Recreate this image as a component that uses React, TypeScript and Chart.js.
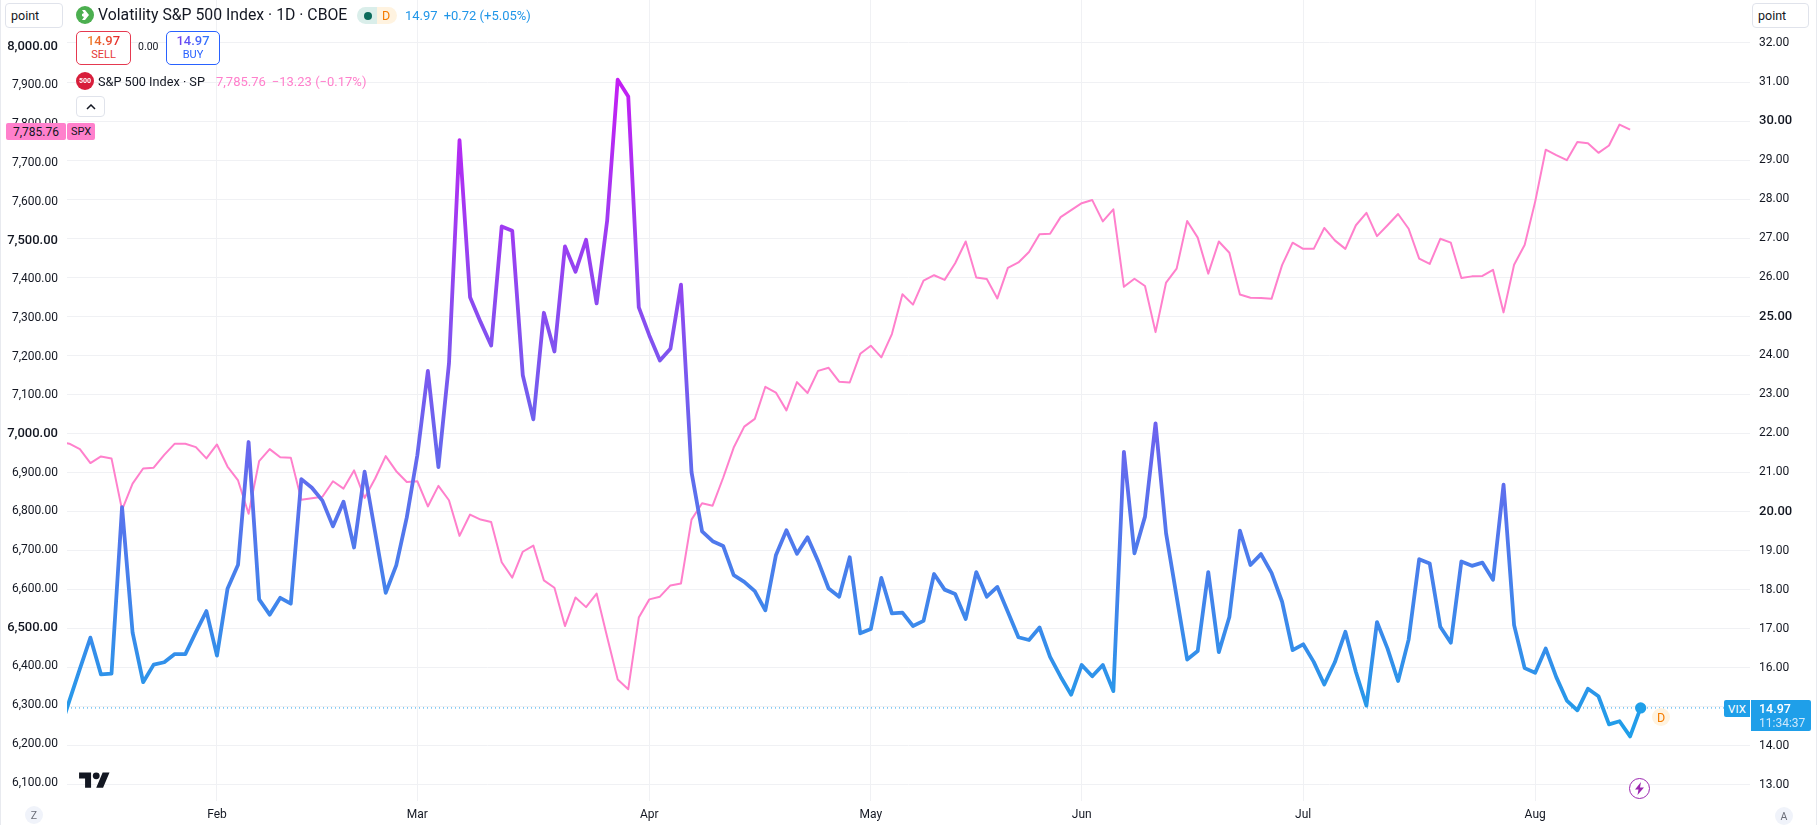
import React, { useEffect, useRef } from "react";
import { Chart, registerables } from "chart.js";

Chart.register(...registerables);

const VIX_VALUES = [
  14.31, 15.15, 15.97, 16.77, 15.83, 15.85, 20.11, 16.9, 15.63, 16.08,
  16.14, 16.35, 16.35, 16.91, 17.45, 16.31, 18.02, 18.64, 21.78, 17.75,
  17.36, 17.79, 17.64, 20.83, 20.61, 20.28, 19.62, 20.25, 19.08, 21.02,
  19.47, 17.92, 18.62, 19.85, 21.44, 23.6, 21.14, 23.79, 29.51, 25.49,
  24.85, 24.25, 27.3, 27.19, 23.49, 22.36, 25.09, 24.1, 26.79, 26.14,
  26.96, 25.33, 27.45, 31.06, 30.63, 25.23, 24.51, 23.87, 24.17, 25.81,
  21.01, 19.49, 19.24, 19.12, 18.37, 18.2, 17.96, 17.47, 18.88, 19.52,
  18.92, 19.34, 18.73, 18.03, 17.82, 18.83, 16.88, 16.99, 18.3, 17.39,
  17.41, 17.07, 17.2, 18.4, 18.0, 17.89, 17.25, 18.45, 17.82, 18.07,
  17.43, 16.78, 16.71, 17.03, 16.28, 15.77, 15.31, 16.07, 15.78, 16.07,
  15.4, 21.53, 18.93, 19.87, 22.26, 19.44, 17.82, 16.21, 16.43, 18.45,
  16.4, 17.3, 19.51, 18.63, 18.91, 18.43, 17.69, 16.45, 16.6, 16.15,
  15.57, 16.14, 16.92, 15.89, 15.03, 17.17, 16.49, 15.66, 16.72, 18.78,
  18.67, 17.05, 16.64, 18.72, 18.61, 18.69, 18.25, 20.69, 17.09, 15.99,
  15.87, 16.49, 15.76, 15.16, 14.91, 15.46, 15.27, 14.55, 14.63, 14.24, 14.97,
];

const SPX_VALUES = [
  6981, 6975, 6961, 6925, 6942, 6937, 6804, 6872, 6911, 6913,
  6946, 6975, 6975, 6966, 6937, 6973, 6916, 6880, 6794, 6930,
  6961, 6940, 6939, 6830, 6834, 6838, 6878, 6859, 6906, 6835,
  6885, 6943, 6904, 6876, 6878, 6813, 6866, 6829, 6737, 6792,
  6779, 6773, 6669, 6629, 6696, 6712, 6622, 6603, 6504, 6578,
  6553, 6588, 6476, 6366, 6341, 6526, 6573, 6580, 6609, 6614,
  6779, 6821, 6815, 6887, 6965, 7019, 7039, 7122, 7107, 7061,
  7134, 7106, 7163, 7171, 7135, 7133, 7207, 7228, 7198, 7258,
  7361, 7334, 7396, 7410, 7398, 7441, 7497, 7404, 7400, 7350,
  7429, 7443, 7470, 7516, 7517, 7560, 7578, 7596, 7604, 7549,
  7580, 7380, 7401, 7382, 7263, 7391, 7427, 7550, 7507, 7414,
  7497, 7468, 7360, 7352, 7351, 7349, 7436, 7494, 7478, 7478,
  7532, 7500, 7478, 7539, 7571, 7511, 7539, 7568, 7530, 7453,
  7439, 7504, 7494, 7403, 7407, 7408, 7424, 7314, 7437, 7488,
  7600, 7734, 7720, 7707, 7754, 7751, 7726, 7745, 7798.99, 7785.76,
];

const MONTH_LABELS = ["Feb", "Mar", "Apr", "May", "Jun", "Jul", "Aug"];
const MONTH_STARTS = [15, 34, 56, 77, 97, 118, 140];
const LEFT_TICKS = [
  6100, 6200, 6300, 6400, 6500, 6600, 6700, 6800, 6900, 7000, 7100, 7200, 7300,
  7400, 7500, 7600, 7700, 7800, 7900, 8000,
];
const RIGHT_TICKS = [
  13, 14, 15, 16, 17, 18, 19, 20, 21, 22, 23, 24, 25, 26, 27, 28, 29, 30, 31, 32,
];
const LAST_VIX = 14.97;
const X_RANGE = [0.78, 160.37];
const LEFT_RANGE = [6052.4, 8120.6];
const RIGHT_RANGE = [12.587, 33.1];

const FONT = "Roboto, 'Noto Sans', sans-serif";
const TEXT = "#131722";
const PINK = "#ff80cc";
const BLUE = "#1f9fe9";
const GRID = "#f0f1f4";

type Box = {
  x: number;
  y: number;
  w: number;
  h: number;
  style?: React.CSSProperties;
  children?: React.ReactNode;
};

function Abs({ x, y, w, h, style, children }: Box) {
  return (
    <div
      style={{
        position: "absolute",
        left: x,
        top: y,
        width: w,
        height: h,
        display: "flex",
        alignItems: "center",
        justifyContent: "center",
        boxSizing: "border-box",
        whiteSpace: "nowrap",
        ...style,
      }}
    >
      {children}
    </div>
  );
}

function Label({
  x,
  cy,
  size,
  color,
  weight,
  children,
}: {
  x: number;
  cy: number;
  size: number;
  color: string;
  weight?: number;
  children: React.ReactNode;
}) {
  return (
    <div
      style={{
        position: "absolute",
        left: x,
        top: cy - 10,
        height: 20,
        lineHeight: "20px",
        fontSize: size,
        color,
        fontWeight: weight ?? 400,
        whiteSpace: "nowrap",
      }}
    >
      {children}
    </div>
  );
}

function GradientText({ from, to, children }: { from: string; to: string; children: React.ReactNode }) {
  return (
    <span
      style={{
        background: `linear-gradient(90deg, ${from}, ${to})`,
        WebkitBackgroundClip: "text",
        backgroundClip: "text",
        color: "transparent",
      }}
    >
      {children}
    </span>
  );
}

export default function App() {
  const ref = useRef<HTMLCanvasElement | null>(null);

  useEffect(() => {
    if (!ref.current) return;
    const vixGradient = (ctx: any) => {
      const chart = ctx.chart;
      if (!chart.chartArea) return BLUE;
      const yScale = chart.scales.yRight;
      const top = yScale.getPixelForValue(Math.max(...VIX_VALUES));
      const bottom = yScale.getPixelForValue(Math.min(...VIX_VALUES));
      const g = chart.ctx.createLinearGradient(0, top, 0, bottom);
      g.addColorStop(0, "#c41ef4");
      g.addColorStop(1, BLUE);
      return g;
    };
    const fitY = (s: any) => {
      s.width = 67;
      s.paddingTop = 0;
      s.paddingBottom = 0;
    };
    const lastIndex = VIX_VALUES.length - 1;
    const chart = new Chart(ref.current, {
      type: "line",
      data: {
        datasets: [
          {
            label: "VIX",
            yAxisID: "yRight",
            data: VIX_VALUES.map((y, x) => ({ x, y })),
            borderColor: vixGradient,
            borderWidth: 3.8,
            borderJoinStyle: "round",
            borderCapStyle: "round",
            tension: 0,
            clip: 0,
            pointRadius: (c: any) => (c.dataIndex === lastIndex ? 5.6 : 0),
            pointBackgroundColor: BLUE,
            pointBorderWidth: 0,
          },
          {
            label: "SPX",
            yAxisID: "yLeft",
            data: SPX_VALUES.map((y, x) => ({ x, y })),
            borderColor: PINK,
            borderWidth: 2,
            borderJoinStyle: "round",
            tension: 0,
            clip: 0,
            pointRadius: 0,
          },
          {
            label: "Last",
            yAxisID: "yRight",
            data: [
              { x: X_RANGE[0], y: LAST_VIX },
              { x: X_RANGE[1], y: LAST_VIX },
            ],
            borderColor: BLUE,
            borderWidth: 1,
            borderDash: [1, 3],
            tension: 0,
            pointRadius: 0,
          },
        ],
      } as any,
      options: {
        responsive: false,
        animation: false,
        events: [],
        layout: { padding: 0, autoPadding: false },
        plugins: { legend: { display: false }, tooltip: { enabled: false } },
        scales: {
          x: {
            type: "linear",
            min: X_RANGE[0],
            max: X_RANGE[1],
            afterBuildTicks: (s: any) => {
              s.ticks = MONTH_STARTS.map((value) => ({ value }));
            },
            afterFit: (s: any) => {
              s.height = 24;
              s.paddingLeft = 0;
              s.paddingRight = 0;
            },
            grid: { color: GRID, drawTicks: false },
            border: { display: false },
            ticks: {
              autoSkip: false,
              maxRotation: 0,
              padding: 7,
              color: TEXT,
              font: { family: FONT, size: 12 },
              callback: (v: any) => MONTH_LABELS[MONTH_STARTS.indexOf(v)] ?? null,
            },
          },
          yLeft: {
            type: "linear",
            position: "left",
            min: LEFT_RANGE[0],
            max: LEFT_RANGE[1],
            afterBuildTicks: (s: any) => {
              s.ticks = LEFT_TICKS.map((value) => ({ value }));
            },
            afterFit: fitY,
            grid: { display: false, drawTicks: false },
            border: { display: false },
            ticks: {
              autoSkip: false,
              padding: 9,
              color: TEXT,
              font: (c: any) =>
                c.tick && c.tick.value % 500 === 0
                  ? { family: FONT, size: 13, weight: "500" }
                  : { family: FONT, size: 12 },
              callback: (v: any) =>
                Number(v).toLocaleString("en-US", { minimumFractionDigits: 2, maximumFractionDigits: 2 }),
            },
          },
          yRight: {
            type: "linear",
            position: "right",
            min: RIGHT_RANGE[0],
            max: RIGHT_RANGE[1],
            afterBuildTicks: (s: any) => {
              s.ticks = RIGHT_TICKS.map((value) => ({ value }));
            },
            afterFit: fitY,
            grid: { color: GRID, drawTicks: false },
            border: { display: false },
            ticks: {
              autoSkip: false,
              padding: 9,
              color: TEXT,
              font: (c: any) =>
                c.tick && c.tick.value % 5 === 0
                  ? { family: FONT, size: 13, weight: "500" }
                  : { family: FONT, size: 12 },
              callback: (v: any) => Number(v).toFixed(2),
            },
          },
        },
      },
    } as any);
    return () => chart.destroy();
  }, []);

  const chip: React.CSSProperties = {
    background: "#fff",
    border: "1px solid #e0e3eb",
    borderRadius: 4,
  };

  return (
    <div
      style={{
        position: "fixed",
        left: 0,
        top: 0,
        width: 1817,
        height: 825,
        background: "#fff",
        fontFamily: FONT,
        overflow: "hidden",
      }}
    >
      <canvas ref={ref} width={1817} height={825} style={{ display: "block", width: 1817, height: 825 }} />

      {/* frame */}
      <div style={{ position: "absolute", left: 0, top: 0, bottom: 0, width: 1, background: "#e8eaef" }} />
      <div style={{ position: "absolute", left: 1816, top: 0, bottom: 0, width: 1, background: "#e8eaef" }} />

      {/* scale mode boxes */}
      <Abs x={5} y={3} w={58} h={25} style={{ ...chip, justifyContent: "flex-start", paddingLeft: 5, fontSize: 12.5, color: TEXT }}>
        point
      </Abs>
      <Abs x={1752} y={3} w={57} h={25} style={{ ...chip, justifyContent: "flex-start", paddingLeft: 5, fontSize: 12.5, color: TEXT }}>
        point
      </Abs>

      {/* main title row */}
      <Abs x={76} y={6} w={18} h={18} style={{ borderRadius: 9, background: "#4caf50" }}>
        <svg width="12" height="12" viewBox="0 0 12 12">
          <path d="M3 1h3l4 5-4 5H3l2-3-2-1V5l2-1z" fill="#fff" />
        </svg>
      </Abs>
      <Label x={98} cy={15} size={15.8} color={TEXT}>
        Volatility S&amp;P 500 Index · 1D · CBOE
      </Label>
      <div style={{ position: "absolute", left: 357, top: 7, width: 20, height: 17, background: "#daeeea", borderRadius: "9px 0 0 9px" }} />
      <div style={{ position: "absolute", left: 377, top: 7, width: 20, height: 17, background: "#fff3e0", borderRadius: "0 9px 9px 0" }} />
      <div style={{ position: "absolute", left: 364, top: 11.5, width: 8, height: 8, borderRadius: 4, background: "#0b6b5b" }} />
      <Abs x={377} y={7} w={18} h={17} style={{ color: "#f57c00", fontSize: 12.5 }}>
        D
      </Abs>
      <Label x={405} cy={15.5} size={13} color="#2196e8">
        14.97<span style={{ marginLeft: 6 }}>+0.72 (+5.05%)</span>
      </Label>

      {/* sell / buy */}
      <Abs x={76} y={31} w={55} h={34} style={{ border: "1px solid #e53950", borderRadius: 5, background: "#fff", flexDirection: "column", lineHeight: "14px" }}>
        <span style={{ fontSize: 13, fontWeight: 500 }}>
          <GradientText from="#ef8a2a" to="#e5262f">14.97</GradientText>
        </span>
        <span style={{ fontSize: 11, color: "#e53935" }}>SELL</span>
      </Abs>
      <Label x={138} cy={47} size={10.5} color={TEXT}>
        0.00
      </Label>
      <Abs x={166} y={31} w={54} h={34} style={{ border: "1px solid #2962ff", borderRadius: 5, background: "#fff", flexDirection: "column", lineHeight: "14px" }}>
        <span style={{ fontSize: 13, fontWeight: 500 }}>
          <GradientText from="#7a3cf0" to="#2979ff">14.97</GradientText>
        </span>
        <span style={{ fontSize: 11, color: "#2962ff" }}>BUY</span>
      </Abs>

      {/* second legend row */}
      <Abs x={76} y={72} w={18} h={18} style={{ borderRadius: 9, background: "#d81e3b", color: "#fff", fontSize: 7, fontWeight: 700 }}>
        500
      </Abs>
      <Label x={98} cy={81.5} size={12.7} color={TEXT}>
        S&amp;P 500 Index · SP
      </Label>
      <Label x={216} cy={81.5} size={13} color={PINK}>
        7,785.76<span style={{ marginLeft: 6 }}>−13.23 (−0.17%)</span>
      </Label>
      <Abs x={76} y={96} w={29} h={21} style={chip}>
        <svg width="10" height="6" viewBox="0 0 10 6">
          <path d="M1 5l4-4 4 4" stroke={TEXT} strokeWidth="1.5" fill="none" />
        </svg>
      </Abs>

      {/* left price tags */}
      <Abs x={6} y={123} w={60} h={17} style={{ background: PINK, color: TEXT, fontSize: 12, borderRadius: 2 }}>
        7,785.76
      </Abs>
      <Abs x={67} y={123} w={28} h={17} style={{ background: PINK, color: TEXT, fontSize: 11, borderRadius: 2 }}>
        SPX
      </Abs>

      {/* right price tags */}
      <Abs x={1724} y={700} w={26} h={17} style={{ background: BLUE, color: "#fff", fontSize: 11.5, borderRadius: "2px 0 0 2px" }}>
        VIX
      </Abs>
      <Abs x={1751} y={700} w={60} h={31} style={{ background: BLUE, color: "#fff", flexDirection: "column", justifyContent: "center", alignItems: "flex-start", paddingLeft: 8, borderRadius: "0 2px 2px 0", lineHeight: "14px" }}>
        <span style={{ fontSize: 12.5, fontWeight: 500 }}>14.97</span>
        <span style={{ fontSize: 12, color: "#cfe8fb" }}>11:34:37</span>
      </Abs>

      {/* markers */}
      <Abs x={1652} y={708} w={18} h={18} style={{ borderRadius: 9, background: "#fff3e0", color: "#f57c00", fontSize: 12.5 }}>
        D
      </Abs>
      <Abs x={1629} y={778} w={21} h={21} style={{ borderRadius: 11, border: "1.5px solid #9c27b0", background: "#fff" }}>
        <svg width="11" height="13" viewBox="0 0 11 13">
          <path d="M7 0L1 7.5h3.5L3.5 13 10 5.5H6z" fill="#9c27b0" />
        </svg>
      </Abs>
      <svg style={{ position: "absolute", left: 79, top: 769 }} width="31" height="24" viewBox="0 0 36 28">
        <path d="M14 22H7V11H0V4h14v18zM28 22h-8l7.5-18h8L28 22z" fill="#131722" />
        <circle cx="20" cy="8" r="4" fill="#131722" />
      </svg>
      <Abs x={25} y={806} w={18} h={18} style={{ borderRadius: 9, background: "#f0f3fa", color: "#6a6d78", fontSize: 10.5 }}>
        Z
      </Abs>
      <Abs x={1775} y={807} w={18} h={18} style={{ borderRadius: 9, background: "#f0f3fa", color: "#6a6d78", fontSize: 10.5 }}>
        A
      </Abs>
    </div>
  );
}
